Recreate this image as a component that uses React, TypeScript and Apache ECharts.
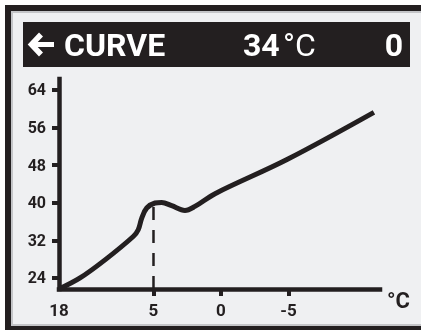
import React, { useEffect, useRef } from "react";
import * as echarts from "echarts";

// Curve data: x position along the (non-linear) outdoor-temperature axis, supply temperature (°C)
const curveX = [0, 1.56, 3.41, 5.5, 5.87, 6.13, 6.5, 7.11, 7.61, 8.35, 9.33, 10.07, 11.56, 16.89, 23.33];
const curveY = [21.65, 24.0, 27.84, 32.81, 34.24, 36.73, 38.87, 39.93, 40.06, 39.36, 38.36, 39.21, 41.92, 49.17, 59.2];

// Current outdoor temperature marker (dashed line)
const markerX = [7, 7];
const markerY = [39.1, 21.65];

// Axis ticks
const xTickPositions = [0, 7, 12, 17];
const xTickLabels = ["18", "5", "0", "-5"];
const yTickValues = [24, 32, 40, 48, 56, 64];

// Header texts
const headerTitle = "CURVE";
const headerTemp = "34";
const headerUnit = "°C";
const headerValue = "0";

const DARK = "#231f20";

export default function App() {
  const ref = useRef<HTMLDivElement>(null);
  useEffect(() => {
    if (!ref.current) return;
    const chart = echarts.init(ref.current, undefined, { renderer: "svg" });
    const labelFont = { color: DARK, fontFamily: "Roboto", fontWeight: "bold" as const };
    chart.setOption({
      animation: false,
      grid: { left: 59, top: 79, right: 41, bottom: 41 },
      graphic: [
        { type: "rect", z: -20, shape: { x: 5, y: 5, width: 440, height: 340 }, style: { fill: DARK } },
        { type: "rect", z: -19, shape: { x: 12, y: 12, width: 430, height: 313 }, style: { fill: "#eff0f2", stroke: "#c4c5c8", lineWidth: 2 } },
        { type: "rect", z: -18, shape: { x: 23, y: 22, width: 387, height: 45 }, style: { fill: DARK } },
        { type: "polyline", z: -17, shape: { points: [[41, 34.5], [31.5, 44.5], [41, 54.5]] }, style: { stroke: "#ffffff", lineWidth: 5.5, fill: null, lineJoin: "miter" } },
        { type: "line", z: -17, shape: { x1: 32, y1: 44.5, x2: 54, y2: 44.5 }, style: { stroke: "#ffffff", lineWidth: 5 } },
        { type: "text", z: -17, x: 64, y: 44.5, style: { text: headerTitle, fill: "#ffffff", font: "bold 32px Roboto", verticalAlign: "middle", textAlign: "left" } },
        { type: "text", z: -17, x: 243, y: 44.5, style: { text: headerTemp, fill: "#ffffff", font: "bold 32px Roboto", verticalAlign: "middle", textAlign: "left" } },
        { type: "text", z: -17, x: 283, y: 44.5, style: { text: headerUnit, fill: "#ffffff", font: "normal 32px Roboto", verticalAlign: "middle", textAlign: "left" } },
        { type: "text", z: -17, x: 403, y: 44.5, style: { text: headerValue, fill: "#ffffff", font: "bold 32px Roboto", verticalAlign: "middle", textAlign: "right" } },
      ],
      xAxis: {
        type: "value",
        min: 0,
        max: 23.78,
        name: "°C",
        nameLocation: "end",
        nameGap: 7,
        nameTextStyle: { ...labelFont, fontSize: 22, align: "left", verticalAlign: "top", padding: [0, 0, 0, 0] },
        splitLine: { show: false },
        axisLine: { lineStyle: { color: DARK, width: 4.5, cap: "square" } },
        axisTick: { customValues: [7, 12, 17], length: 7, lineStyle: { color: DARK, width: 4 } },
        axisLabel: {
          ...labelFont,
          fontSize: 17,
          margin: 12,
          customValues: xTickPositions,
          formatter: (v: number) => {
            const i = xTickPositions.findIndex((p) => Math.abs(p - v) < 1e-6);
            return i >= 0 ? xTickLabels[i] : "";
          },
        },
      },
      yAxis: {
        type: "value",
        min: 21.65,
        max: 66.3,
        splitLine: { show: false },
        axisLine: { lineStyle: { color: DARK, width: 4.5, cap: "square" } },
        axisTick: { customValues: yTickValues, length: 7, lineStyle: { color: DARK, width: 4 } },
        axisLabel: { ...labelFont, fontSize: 16, margin: 13, customValues: yTickValues },
      },
      series: [
        {
          type: "line",
          data: curveX.map((x, i) => [x, curveY[i]]),
          smooth: 0.35,
          symbol: "none",
          lineStyle: { color: DARK, width: 5 },
          z: 3,
        },
        {
          type: "line",
          data: markerX.map((x, i) => [x, markerY[i]]),
          symbol: "none",
          lineStyle: { color: DARK, width: 2.5, type: [13, 10] },
          z: 1,
        },
      ],
    });
    return () => chart.dispose();
  }, []);
  return <div ref={ref} style={{ position: "fixed", left: 0, top: 0, width: 421, height: 330 }} />;
}
